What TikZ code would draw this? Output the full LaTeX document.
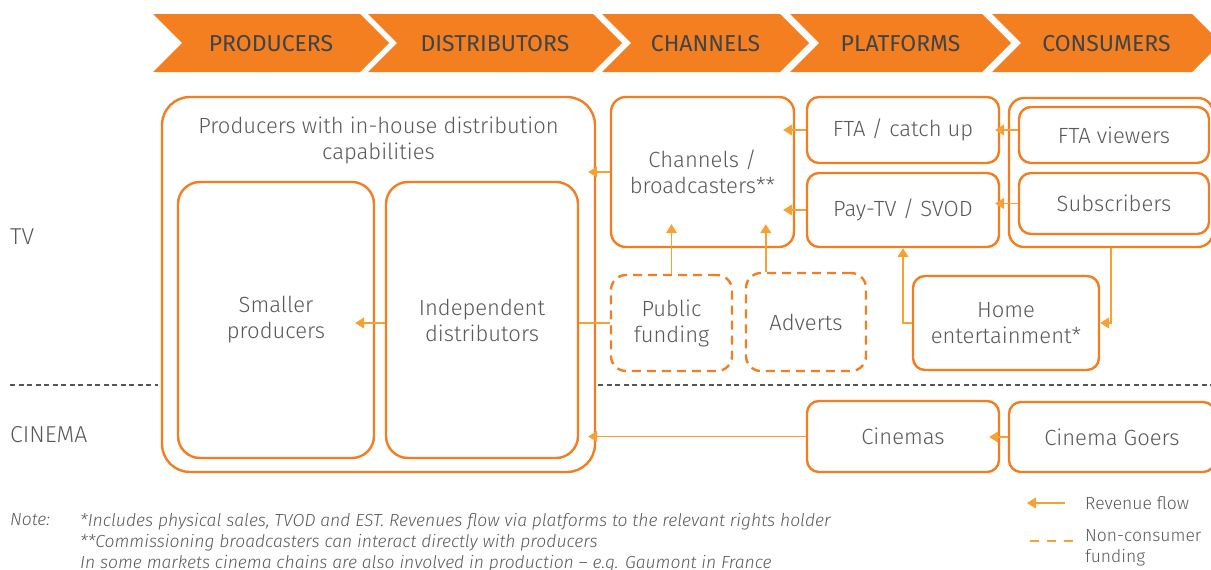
\documentclass[tikz,border=0pt]{standalone}
\usepackage{fontspec}
\setmainfont{Fira Sans}[UprightFont={* Light}, ItalicFont={* Light Italic}]
\newfontfamily\hdrfont{Fira Sans}
\usetikzlibrary{arrows.meta,calc}
\definecolor{boxc}{HTML}{F37E22}
\definecolor{arrc}{HTML}{F7A133}
\definecolor{hdrc}{HTML}{F47F20}
\definecolor{hdrtxt}{HTML}{3E4449}
\definecolor{txt}{HTML}{58595B}
\definecolor{sepc}{HTML}{555555}
\begin{document}
\begin{tikzpicture}[x=1pt,y=-1pt,
  box/.style={draw=boxc, line width=2.4pt, rounded corners=12pt, align=center,
    text=txt, font=\fontsize{22}{26}\selectfont, inner sep=0pt},
  fund/.style={box, dash pattern=on 9pt off 6pt},
  plain/.style={align=center, text=txt, font=\fontsize{22}{26}\selectfont, inner sep=0pt},
  hdr/.style={text=hdrtxt, font=\hdrfont\fontsize{23}{26}\selectfont, inner sep=0pt},
  side/.style={text=txt, font=\fontsize{23}{26}\selectfont, inner sep=0pt, anchor=west},
  note/.style={text=txt, font=\itshape\fontsize{17.5}{21}\selectfont, inner sep=0pt, align=left},
  legend/.style={text=txt, font=\fontsize{17.5}{21}\selectfont, inner sep=0pt, align=left, anchor=west},
  flow/.style={draw=arrc, line width=1.4pt, -{Triangle[length=9pt,width=11pt]}},
  link/.style={draw=arrc, line width=1.4pt},
  sep/.style={draw=sepc, line width=1.1pt, dash pattern=on 5pt off 3.5pt}]
\useasboundingbox (0,0) rectangle (1211,570);
\clip (0,0) rectangle (1211,570);

% value-chain banner
\foreach \L/\R/\lab [count=\i] in {153/360/PRODUCERS, 368/593/DISTRIBUTORS,
    602/780/CHANNELS, 790/982/PLATFORMS, 992/1192/CONSUMERS}{
  \fill[hdrc] (\L,14) -- (\R,14) -- (\R+29,43) -- (\R,72) -- (\L,72) -- (\L+29,43) -- cycle;
  \node[hdr] (stage\i) at ({(\L+\R)/2+14.5},44) {\lab};
}

% row labels and TV / cinema divider
\node[side] (tv) at (10,237) {TV};
\node[side] (cinema) at (10,435) {CINEMA};
\draw[sep] (10,385) -- (158,385);
\draw[sep] (598,385) -- (1211,385);

% producers and distributors
\node[box, minimum width=433pt, minimum height=375pt, rounded corners=28pt] (prodall) at (378.5,284.5) {};
\node[plain] (prodtitle) at (378.5,140) {Producers with in-house distribution\\capabilities};
\node[box, minimum width=196pt, minimum height=276pt, rounded corners=22pt] (small) at (276,320) {Smaller\\producers};
\node[box, minimum width=192pt, minimum height=276pt, rounded corners=22pt] (indep) at (482,320) {Independent\\distributors};

% channels and platforms
\node[box, minimum width=183pt, minimum height=150pt, rounded corners=15pt] (ch) at (702.5,172) {Channels /\\broadcasters**};
\node[box, minimum width=192pt, minimum height=66pt] (fta) at (903,130) {FTA / catch up};
\node[box, minimum width=192pt, minimum height=74pt] (pay) at (903,210) {Pay-TV / SVOD};

% consumers
\node[box, minimum width=204pt, minimum height=149pt, rounded corners=15pt] (cons) at (1111,172.5) {};
\node[box, minimum width=190pt, minimum height=56pt] (ftav) at (1114,135) {FTA viewers};
\node[box, minimum width=190pt, minimum height=61pt] (subs) at (1114,203.5) {Subscribers};

% non-consumer funding and home entertainment
\node[fund, minimum width=121pt, minimum height=96pt, rounded corners=15pt] (pub) at (671.5,323) {Public\\funding};
\node[fund, minimum width=120pt, minimum height=98pt, rounded corners=15pt] (adv) at (806,322) {Adverts};
\node[box, minimum width=186pt, minimum height=94pt] (home) at (1006,323) {Home\\entertainment*};

% cinema
\node[box, minimum width=192pt, minimum height=71pt] (cin) at (903,436.5) {Cinemas};
\node[box, minimum width=206pt, minimum height=70pt] (goers) at (1112,437) {Cinema Goers};

% revenue flows
\draw[flow] (ftav.west |- fta.east) -- ($(fta.east)+(-5,0)$);
\draw[flow] (subs.west) -- ($(pay.east |- subs.west)+(-5,0)$);
\draw[flow] (fta.west) -- ($(ch.east |- fta.west)+(-12,0)$);
\draw[flow] (pay.west) -- ($(ch.east |- pay.west)+(-12,0)$);
\draw[flow] (ch.west) -- ($(prodall.east |- ch.west)+(-8,0)$);
\draw[flow] (pub.north) -- ($(ch.south -| pub.north)+(0,-24)$);
\draw[flow] ($(adv.north west)+(21,0)$) -- ($(ch.south -| adv.north west)+(21,-24)$);
\draw[flow] (home.west) -| (pay.south);
\draw[flow] (cons.south) |- (home.east);
\draw[link] (pub.west) -- (pub.west -| indep.east);
\draw[flow] (indep.west |- pub.west) -- ($(small.east |- pub.west)+(-20,0)$);
\draw[flow] (goers.west) -- ($(cin.east |- goers.west)+(-11,0)$);
\draw[flow] (cin.west) -- ($(prodall.east |- cin.west)+(-8,0)$);

% notes
\node[note, anchor=north west] (notelbl) at (10,513) {Note:};
\node[note, anchor=north west] (notes) at (80,513) {*Includes physical sales, TVOD and EST. Revenues flow via platforms to the relevant rights holder\\
**Commissioning broadcasters can interact directly with producers\\
In some markets cinema chains are also involved in production – e.g. Gaumont in France};

% legend
\coordinate (lgA) at (1065,503);
\coordinate (lgB) at (1027,503);
\draw[flow] (lgA) -- (lgB);
\node[legend] (lgflow) at (1085,503) {Revenue flow};
\coordinate (lgC) at (1030,541);
\coordinate (lgD) at (1074,541);
\draw[draw=arrc, line width=2.4pt, dash pattern=on 9pt off 8pt] (lgC) -- (lgD);
\node[legend, anchor=north west] (lgfund) at (1085,529) {Non-consumer\\funding};
\end{tikzpicture}
\end{document}
